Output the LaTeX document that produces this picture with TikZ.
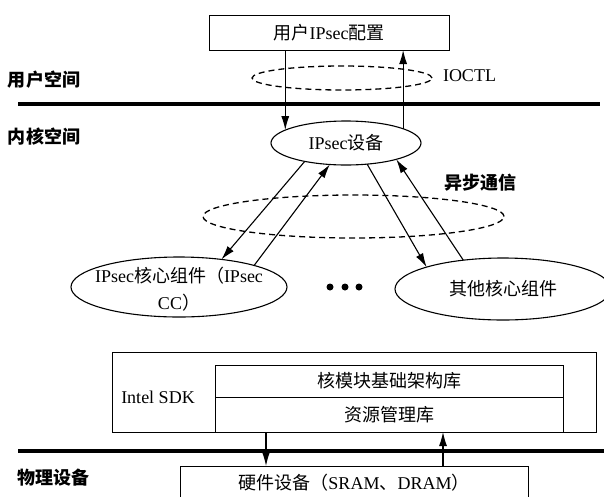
\documentclass[tikz,border=0pt]{standalone}
\usepackage{fontspec}
\setmainfont{Liberation Serif}
\newfontfamily\cjk{Noto Sans CJK SC}
\newcommand\zh[1]{{\cjk #1}}
\newcommand\zhb[1]{{\cjk\bfseries #1}}
\usetikzlibrary{arrows.meta,shapes.geometric}

\begin{document}
\begin{tikzpicture}[x=1pt,y=-1pt,
  every node/.style={font=\fontsize{18}{22}\selectfont, inner sep=0pt, outer sep=0pt},
  frame/.style={draw, line width=1pt},
  oval/.style={draw, ellipse, line width=1.1pt},
  ring/.style={draw, ellipse, dash pattern=on 6pt off 4pt, line width=1.3pt},
  arr/.style={line width=1.1pt, -{Latex[length=14pt,width=8pt]}},
  divider/.style={line width=4pt},
  side/.style={anchor=west},
  dot/.style={circle, fill, minimum size=7pt},
]
\fill[white] (0,0) rectangle (604,496);
\useasboundingbox (0,0) rectangle (604,496);

% boundaries between user space, kernel space and hardware
\coordinate (ul) at (18,104);  \coordinate (ur) at (600,104);
\coordinate (ll) at (18,451);  \coordinate (lr) at (604,451);
\draw[divider] (ul) -- (ur);
\draw[divider] (ll) -- (lr);

% layer labels
\node[side] (usr) at (8,80)  {\zhb{用户空间}};
\node[side] (krn) at (8,137) {\zhb{内核空间}};
\node[side] (phy) at (17,478) {\zhb{物理设备}};

% user space
\node[frame, minimum width=240pt, minimum height=35pt] (cfg) at (329,32.5) {\zh{用户}IPsec\zh{配置}};
\node[ring, minimum width=180pt, minimum height=24pt] (ioctlring) at (342,78) {};
\node[side] (ioctl) at (443,76) {IOCTL};

% kernel space
\node[oval, minimum width=150pt, minimum height=44pt] (dev) at (346,143) {IPsec\zh{设备}};
\node[ring, minimum width=301pt, minimum height=43pt] (asyncring) at (353.5,216.5) {};
\node (async) at (480,183) {\zhb{异步通信}};

\node[oval, minimum width=216pt, minimum height=60pt] (cc) at (179,287) {};
\node[align=center, font=\fontsize{18}{27}\selectfont] (cctext) at (179,289) {IPsec\zh{核心组件（}IPsec\\CC\zh{）}};
\node[oval, minimum width=216pt, minimum height=62pt] (oth) at (503,289) {\zh{其他核心组件}};

\node[dot] (d1) at (330,287) {};
\node[dot] (d2) at (345,287) {};
\node[dot] (d3) at (359,287) {};

% Intel SDK
\node[frame, minimum width=484pt, minimum height=80pt] (sdk) at (354,392) {};
\node (sdklabel) at (158,397) {Intel SDK};
\node[frame, minimum width=348pt, minimum height=32pt] (lib1) at (389,381) {\zh{核模块基础架构库}};
\node[frame, minimum width=348pt, minimum height=35pt] (lib2) at (389,414.5) {\zh{资源管理库}};

% hardware
\node[frame, minimum width=348pt, minimum height=34pt] (hw) at (354,483) {\zh{硬件设备（}SRAM\zh{、}DRAM\zh{）}};

% IOCTL calls
\draw[arr] (cfg.south -| dev.168) -- (dev.168);
\draw[arr] (dev.14) -- (dev.14 |- cfg.south);

% asynchronous messages
\draw[arr] (dev.204) -- (cc.33);
\draw[arr] (cc.16) -- (dev.233);
\draw[arr] (dev.315) -- (oth.164);
\draw[arr] (oth.144) -- (dev.342);

% SDK to hardware
\coordinate (dn) at (266,0);
\coordinate (up) at (443,0);
\draw[arr] (lib2.south -| dn) -- (hw.north -| dn);
\draw[arr] (hw.north -| up) -- (lib2.south -| up);
\end{tikzpicture}
\end{document}
